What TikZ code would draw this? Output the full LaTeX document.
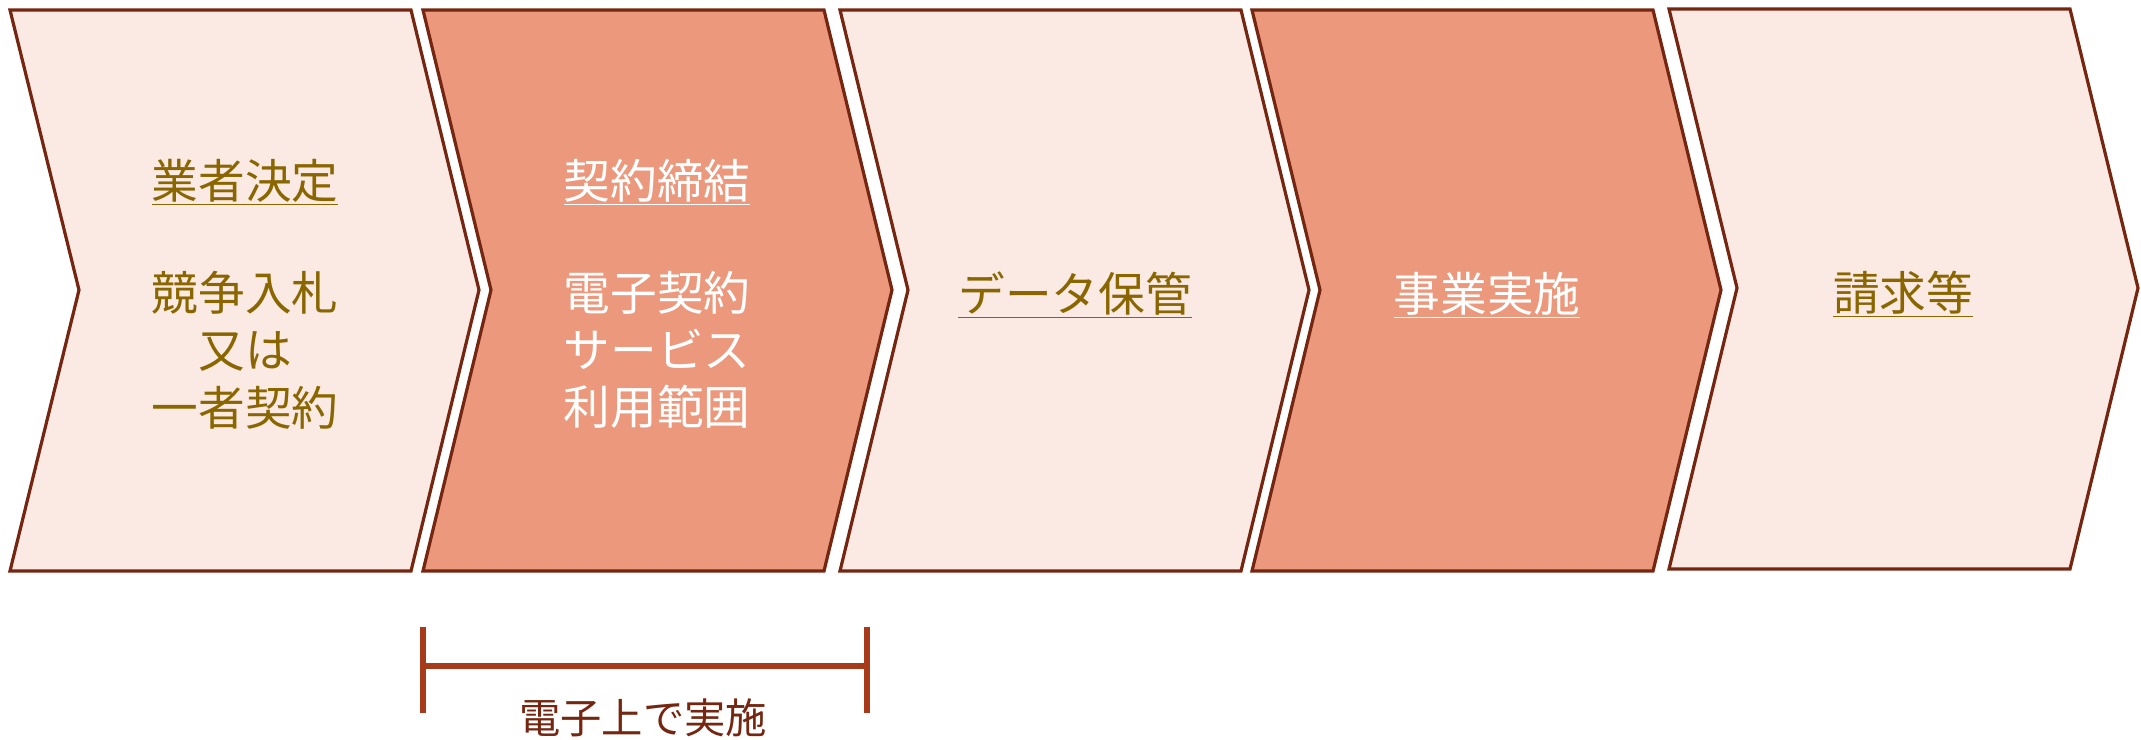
\documentclass[tikz,border=0pt]{standalone}
\usepackage{fontspec}
\setmainfont{Noto Sans CJK JP}

\definecolor{edgebrown}{RGB}{117,38,16}
\definecolor{palefill}{RGB}{251,233,228}
\definecolor{salmonfill}{RGB}{235,152,124}
\definecolor{olivetext}{RGB}{138,102,0}
\definecolor{spanred}{RGB}{168,58,28}
\definecolor{spantext}{RGB}{117,38,16}

\tikzset{every picture/.style={line width=0.75pt}}
\tikzset{
  chevpale/.style={draw=edgebrown, line width=2.4pt, fill=palefill},
  chevdark/.style={draw=edgebrown, line width=2.4pt, fill=salmonfill},
  steptext/.style={align=center, font=\fontsize{35}{43}\selectfont},
  spanbar/.style={draw=spanred, line width=4.5pt}
}

\begin{document}
\begin{tikzpicture}[x=0.75pt,y=0.75pt,yscale=-1,xscale=1]
		\useasboundingbox (0,0) rectangle (2141,739);

		% steps
		\draw [chevpale] (10,10) -- (411,10) -- (479,290) -- (411,571) -- (10,571) -- (79,290) -- cycle ;
		\draw [chevdark] (423,10) -- (824,10) -- (892,290) -- (824,571) -- (423,571) -- (491,290) -- cycle ;
		\draw [chevpale] (840,10) -- (1241,10) -- (1309,290) -- (1241,571) -- (840,571) -- (908,290) -- cycle ;
		\draw [chevdark] (1252,10) -- (1653,10) -- (1721,290) -- (1653,571) -- (1252,571) -- (1320,290) -- cycle ;
		\draw [chevpale] (1669,9) -- (2070,9) -- (2138,288) -- (2070,569) -- (1669,569) -- (1737,288) -- cycle ;

		% texts
		\draw (245,182) node (decide) [steptext, color=olivetext] {\underline{業者決定}};
		\draw (245,350) node (bidding) [steptext, color=olivetext] {競争入札\\又は\\一者契約};
		\draw (657,182) node (conclude) [steptext, color=white] {\underline{契約締結}};
		\draw (657,350) node (scope) [steptext, color=white] {電子契約\\サービス\\利用範囲};
		\draw (1075,295) node (storage) [steptext, color=olivetext] {\underline{データ保管}};
		\draw (1487,295) node (execute) [steptext, color=white] {\underline{事業実施}};
		\draw (1903,294) node (billing) [steptext, color=olivetext] {\underline{請求等}};

		% span
		\coordinate (spanl) at (423,666);
		\coordinate (spanr) at (867,666);
		\draw [spanbar] (423,627) -- (423,713) ;
		\draw [spanbar] (867,627) -- (867,713) ;
		\draw [spanbar] (spanl) -- (spanr) ;
		\draw (643,718) node (online) [color=spantext, font=\fontsize{31}{36}\selectfont] {電子上で実施};

\end{tikzpicture}
\end{document}
